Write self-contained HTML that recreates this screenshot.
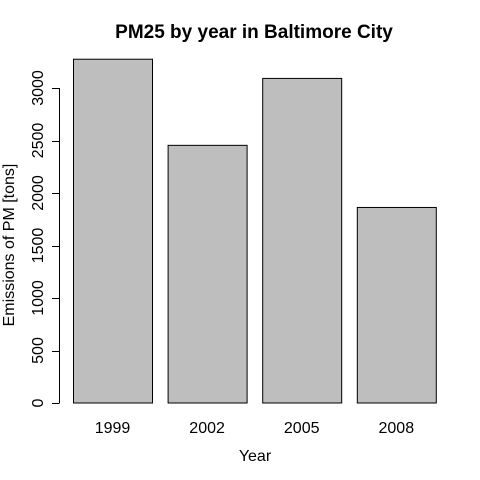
<!DOCTYPE html>
<html><head><meta charset="utf-8"><style>
body{margin:0;background:#fff}
svg{display:block;font-family:"Liberation Sans",sans-serif}
</style></head><body>
<svg id="chart" width="480" height="480">
<text x="254" y="38" text-anchor="middle" font-size="19" font-weight="bold">PM25 by year in Baltimore City</text>
<text x="255" y="461" text-anchor="middle" font-size="16">Year</text>
<text transform="translate(14,245) rotate(-90)" text-anchor="middle" font-size="16">Emissions of PM [tons]</text>
<g id="bars"></g><g id="yaxis"></g><g id="xlabels"></g>
</svg>
<script>
const categories=["1999","2002","2005","2008"];
const values=[3274.18,2453.92,3091.35,1862.28];
const yTicks=[0,500,1000,1500,2000,2500,3000];
const ns="http://www.w3.org/2000/svg";
function y(v){return 403-v*0.105;}
function xStart(i){return 73+i*94.6;}
const barW=79;
const bars=document.getElementById('bars');
categories.forEach((c,i)=>{
 const r=document.createElementNS(ns,'rect');
 r.setAttribute('x',xStart(i)+0.5);r.setAttribute('y',y(values[i]));
 r.setAttribute('width',barW);r.setAttribute('height',y(0)-y(values[i]));
 r.setAttribute('fill','#bebebe');r.setAttribute('stroke','#000');r.setAttribute('stroke-width','1');
 
 
 bars.appendChild(r);
 const t=document.createElementNS(ns,'text');
 t.setAttribute('x',xStart(i)+barW/2);t.setAttribute('y',433);
 t.setAttribute('text-anchor','middle');t.setAttribute('font-size','16');
 t.textContent=c;
 
 
 document.getElementById('xlabels').appendChild(t);
});
const ya=document.getElementById('yaxis');
const ax=document.createElementNS(ns,'line');
ax.setAttribute('x1',59.5);ax.setAttribute('x2',59.5);ax.setAttribute('y1',y(0));ax.setAttribute('y2',y(3000));ax.setAttribute('stroke','#000');


ya.appendChild(ax);
yTicks.forEach(v=>{
 const l=document.createElementNS(ns,'line');
 l.setAttribute('x1',52);l.setAttribute('x2',59.5);l.setAttribute('y1',Math.round(y(v))+0.5);l.setAttribute('y2',Math.round(y(v))+0.5);l.setAttribute('stroke','#000');
 
 
 ya.appendChild(l);
 const t=document.createElementNS(ns,'text');
 t.setAttribute('transform','translate(43,'+y(v)+') rotate(-90)');
 t.setAttribute('text-anchor','middle');t.setAttribute('font-size','16');
 t.textContent=v;
 
 
 ya.appendChild(t);
});
</script>
</body></html>
